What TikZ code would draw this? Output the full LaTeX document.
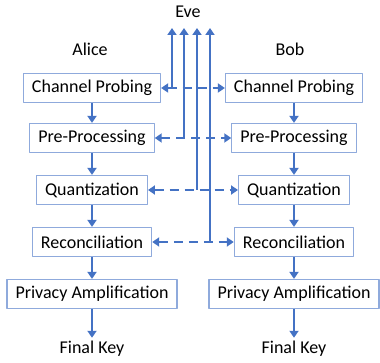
\documentclass[tikz,border=0pt]{standalone}
\usepackage{fontspec}
\setmainfont{Carlito}
\usetikzlibrary{arrows.meta}
\definecolor{lineblue}{HTML}{4472C4}
\definecolor{boxblue}{HTML}{8FAADC}
\begin{document}
\begin{tikzpicture}[x=1pt, y=-1pt, font=\fontsize{18}{21}\selectfont, line join=round, >={Triangle[length=7pt,width=9pt]},
	stage/.style={draw=boxblue, line width=1.2pt, minimum height=29pt, inner xsep=8.5pt, inner ysep=2pt},
	flow/.style={->, draw=lineblue, line width=2.8pt},
	talk/.style={<->, draw=lineblue, line width=2.3pt, dash pattern=on 9pt off 6pt},
	tap/.style={->, draw=lineblue, line width=2.3pt}]
	\useasboundingbox (0,0) rectangle (380,363);
	\node (eve) at (188,12) {Eve};
	\node (alice) at (90,49) {Alice};
	\node (bob) at (290,49) {Bob};
	% the stages, Alice left and Bob right
	\foreach \name/\y [count=\i] in {Channel Probing/88, Pre-Processing/138, Quantization/190, Reconciliation/242, Privacy Amplification/294}{
		\node[stage] (a\i) at (92,\y) {\name};
		\node[stage] (b\i) at (294,\y) {\name};
	}
	\node (akey) at (92,349) {Final Key};
	\node (bkey) at (294,349) {Final Key};
	\foreach \i [evaluate=\i as \j using int(\i+1)] in {1,...,4}{
		\draw[flow] (a\i) -- (a\j);
		\draw[flow] (b\i) -- (b\j);
	}
	\draw[flow] (a5) -- (akey);
	\draw[flow] (b5) -- (bkey);
	% public talk and what Eve hears
	\foreach \i/\x in {1/172, 2/184, 3/197, 4/210}{
		\coordinate (e\i) at (\x,28);
		\draw[talk] (a\i) -- (b\i);
		\draw[tap] (a\i.east -| e\i) -- (e\i);
	}
\end{tikzpicture}
\end{document}
